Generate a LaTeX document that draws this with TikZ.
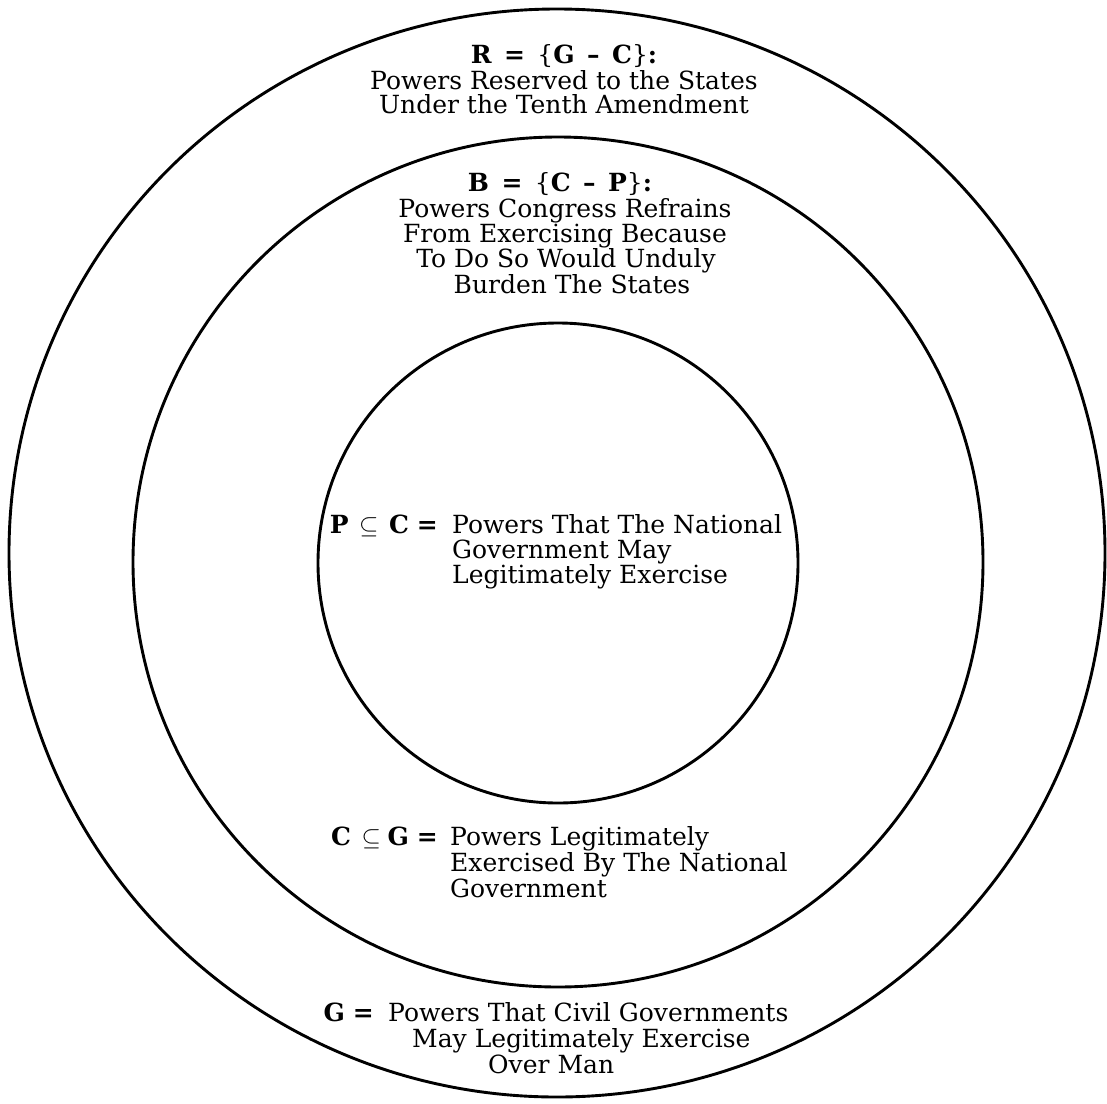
\documentclass[tikz,border=0pt]{standalone}
\usepackage{fontspec}
\setmainfont{DejaVu Serif}
\begin{document}
\begin{tikzpicture}[x=1pt,y=-1pt,
  ring/.style={line width=2.9pt, black},
  txt/.style={font=\fontsize{25}{26}\selectfont, inner sep=0pt, text=black},
  cline/.style={txt, anchor=base},
  lline/.style={txt, anchor=base west},
  lab/.style={txt, anchor=base east}]
\useasboundingbox (0,0) rectangle (1107,1103);
% circles
\draw[ring] (557,553) ellipse [x radius=548pt, y radius=544pt];
\draw[ring] (558,562) circle [radius=425pt];
\draw[ring] (558,563) circle [radius=240pt];
% R block
\node[cline] (r0) at (564,63) {\textbf{R\hspace{0.15em} =\hspace{0.15em} }\{\textbf{G\hspace{0.15em} –\hspace{0.15em} C}\}\textbf{:}};
\node[cline] (r1) at (564,89) {Powers Reserved to the States};
\node[cline] (r2) at (564,113) {Under the Tenth Amendment};
% B block
\node[cline] (b0) at (560,191) {\textbf{B\hspace{0.15em} =\hspace{0.15em} }\{\textbf{C\hspace{0.15em} –\hspace{0.15em} P}\}\textbf{:}};
\node[cline] (b1) at (565,217) {Powers Congress Refrains};
\node[cline] (b2) at (565,242) {From Exercising Because};
\node[cline] (b3) at (566,267) {To Do So Would Unduly};
\node[cline] (b4) at (572,293) {Burden The States};
% P block
\node[lab] (plab) at (438,533) {\textbf{P}\hspace{0.1em} $\subseteq$\hspace{0.1em} \textbf{C} \textbf{=}};
\node[lline] (p1) at (452,533) {Powers That The National};
\node[lline] (p2) at (452,558) {Government May};
\node[lline] (p3) at (452,583) {Legitimately Exercise};
% C block
\node[lab] (clab) at (438,845) {\textbf{C}\hspace{0.1em} $\subseteq$\hspace{-0.05em} \textbf{G} \textbf{=}};
\node[lline] (c1) at (450,845) {Powers Legitimately};
\node[lline] (c2) at (450,871) {Exercised By The National};
\node[lline] (c3) at (450,897) {Government};
% G block
\node[lab] (glab) at (374,1021) {\textbf{G} \textbf{=}};
\node[lline] (g1) at (388,1021) {Powers That Civil Governments};
\node[lline] (g2) at (412,1047) {May Legitimately Exercise};
\node[lline] (g3) at (488,1073) {Over Man};
\end{tikzpicture}
\end{document}
